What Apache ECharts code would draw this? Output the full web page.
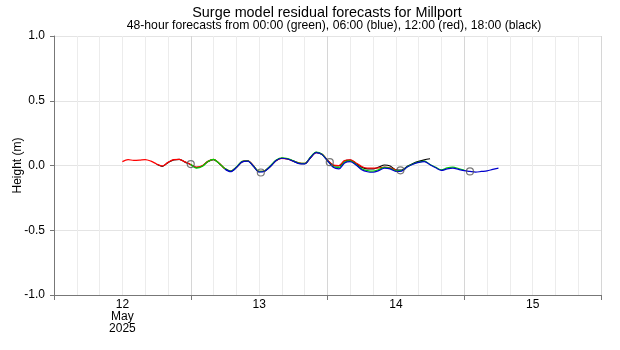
<!DOCTYPE html>
<html>
<head>
<meta charset="utf-8">
<script src="https://cdn.jsdelivr.net/npm/echarts@6/dist/echarts.min.js"></script>
<style>
  html, body { margin: 0; padding: 0; background: #fff; }
  #main { width: 620px; height: 350px; }
</style>
</head>
<body>
<div id="main"></div>
<script>
// hours counted from 12 May 2025 00:00, one value per hour
const dayLabels = ['12\nMay\n2025', '13', '14', '15'];
const yTicks = [-1.0, -0.5, 0.0, 0.5, 1.0];

// 12:00 forecast (red)
const redStart = 12;
const redValues = [0.030, 0.045, 0.040, 0.042, 0.046, 0.034, 0.012, -0.004, 0.024, 0.045,
  0.048, 0.028, 0.008, -0.012, -0.002, 0.032, 0.048, 0.018, -0.024, -0.043,
  -0.014, 0.030, 0.037, -0.002, -0.046, -0.040, -0.004, 0.038, 0.055, 0.050,
  0.035, 0.020, 0.016, 0.060, 0.100, 0.088, 0.042, 0.004, 0.000, 0.038,
  0.044, 0.020, -0.008, -0.020, -0.020, -0.018, -0.012, -0.018, -0.034];

// 18:00 forecast (black)
const blackStart = 18;
const blackValues = [0.010, -0.006, 0.022, 0.044, 0.047, 0.026, 0.006, -0.016, -0.004, 0.030,
  0.046, 0.016, -0.026, -0.046, -0.016, 0.028, 0.036, -0.004, -0.048, -0.042,
  -0.006, 0.038, 0.056, 0.050, 0.034, 0.016, 0.014, 0.060, 0.102, 0.086,
  0.040, 0.002, -0.004, 0.036, 0.042, 0.016, -0.014, -0.026, -0.026, -0.012,
  0.004, -0.004, -0.034, -0.036, -0.006, 0.016, 0.032, 0.044, 0.052];

// 00:00 forecast (green)
const greenStart = 24;
const greenValues = [0.010, -0.020, -0.008, 0.030, 0.047, 0.016, -0.024, -0.044, -0.012, 0.032,
  0.036, -0.004, -0.046, -0.040, -0.002, 0.042, 0.060, 0.054, 0.036, 0.018,
  0.016, 0.064, 0.104, 0.088, 0.038, -0.008, -0.016, 0.026, 0.036, 0.008,
  -0.026, -0.040, -0.044, -0.032, -0.014, -0.022, -0.040, -0.040, -0.010, 0.012,
  0.026, 0.034, 0.008, -0.014, -0.034, -0.018, -0.012, -0.024, -0.036];

// 06:00 forecast (blue)
const blueStart = 30;
const blueValues = [-0.028, -0.048, -0.016, 0.028, 0.034, -0.006, -0.050, -0.044, -0.006, 0.038,
  0.056, 0.050, 0.034, 0.014, 0.012, 0.060, 0.100, 0.086, 0.036, -0.014,
  -0.026, 0.020, 0.030, 0.004, -0.032, -0.048, -0.052, -0.040, -0.020, -0.026,
  -0.046, -0.044, -0.012, 0.010, 0.024, 0.030, 0.006, -0.018, -0.038, -0.026,
  -0.020, -0.030, -0.040, -0.046, -0.051, -0.046, -0.042, -0.030, -0.020];

// open circles
const circleHours = [24.0, 36.3, 48.4, 60.8, 73.0];
const circleValues = [0.011, -0.054, 0.026, -0.037, -0.046];

const toPairs = (start, vals) => vals.map((v, i) => [start + i, v]);

const lineSeries = (name, color, start, vals) => ({
  name: name, type: 'line', data: toPairs(start, vals),
  showSymbol: false, smooth: 0.3, silent: true,
  lineStyle: { color: color, width: 1.2 }
});

const chart = echarts.init(document.getElementById('main'));

const option = {
  animation: false,
  title: [
    { text: 'Surge model residual forecasts for Millport', left: 327, top: 6, textAlign: 'center', padding: 0,
      textStyle: { fontFamily: 'Liberation Sans', fontSize: 14.4, fontWeight: 'normal', color: '#000' } },
    { text: '48-hour forecasts from 00:00 (green), 06:00 (blue), 12:00 (red), 18:00 (black)', left: 334, top: 20, textAlign: 'center', padding: 0,
      textStyle: { fontFamily: 'Liberation Sans', fontSize: 12.2, fontWeight: 'normal', color: '#000' } }
  ],
  grid: { left: 54, right: 19, top: 36, bottom: 55, containLabel: false, outerBoundsMode: 'none' },
  xAxis: [
    {
      type: 'value', min: 0, max: 96, interval: 24,
      axisLine: { show: true, onZero: false, lineStyle: { color: '#777', width: 1 } },
      axisTick: { show: true, length: 5, lineStyle: { color: '#777' } },
      axisLabel: { show: false },
      splitLine: { show: true, lineStyle: { color: '#d6d6d6', width: 1 } },
      minorTick: { show: false, splitNumber: 6 },
      minorSplitLine: { show: true, lineStyle: { color: '#ececec', width: 1 } }
    },
    {
      type: 'value', min: 0, max: 96, interval: 12, position: 'bottom',
      axisLine: { show: false }, axisTick: { show: false }, splitLine: { show: false },
      axisLabel: {
        show: true, margin: 4, lineHeight: 12,
        fontFamily: 'Liberation Sans', fontSize: 12, color: '#000',
        verticalAlign: 'top',
        formatter: (v) => (v % 24 === 12 ? dayLabels[(v - 12) / 24] : '')
      }
    }
  ],
  yAxis: {
    type: 'value', min: yTicks[0], max: yTicks[yTicks.length - 1], interval: 0.5,
    name: 'Height (m)', nameLocation: 'middle', nameGap: 30, nameRotate: 90, nameMoveOverlap: false,
    nameTextStyle: { fontFamily: 'Liberation Sans', fontSize: 12, color: '#000' },
    axisLine: { show: true, lineStyle: { color: '#777', width: 1 } },
    axisTick: { show: true, length: 4, lineStyle: { color: '#777' } },
    axisLabel: {
      margin: 9, fontFamily: 'Liberation Sans', fontSize: 12, color: '#000',
      formatter: (v) => v.toFixed(1)
    },
    splitLine: { show: true, lineStyle: { color: '#e4e4e4', width: 1 } }
  },
  series: [
    lineSeries('18:00', '#000000', blackStart, blackValues),
    lineSeries('12:00', '#ff0000', redStart, redValues),
    lineSeries('00:00', '#00d000', greenStart, greenValues),
    lineSeries('06:00', '#0000cc', blueStart, blueValues),
    {
      name: 'marks', type: 'scatter', silent: true, z: 5,
      data: circleHours.map((h, i) => [h, circleValues[i]]),
      symbol: 'circle', symbolSize: 7,
      itemStyle: { color: 'rgba(0,0,0,0)', borderColor: '#555', borderWidth: 1.2 }
    }
  ]
};

chart.setOption(option);
</script>
</body>
</html>
